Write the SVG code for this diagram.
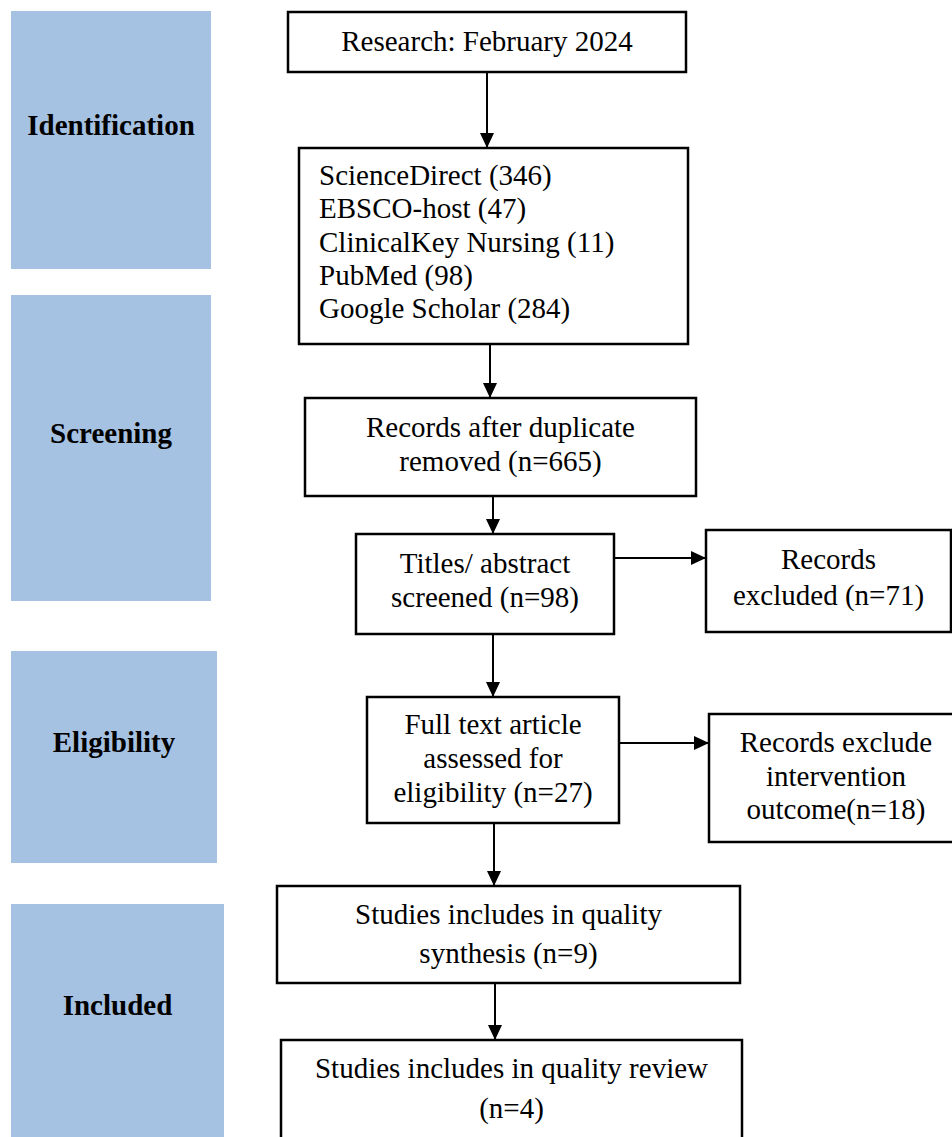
<svg xmlns="http://www.w3.org/2000/svg" width="952" height="1137" viewBox="0 0 952 1137">
<style>
.stage{fill:#a6c2e2}
.lab{font-family:"Liberation Serif","Times New Roman",serif;font-size:29px;font-weight:bold;fill:#000;text-anchor:middle}
.box{fill:#fff;stroke:#000;stroke-width:2.5}
.t{font-family:"Liberation Serif","Times New Roman",serif;font-size:29px;fill:#000;text-anchor:middle}
.tl{font-family:"Liberation Serif","Times New Roman",serif;font-size:29px;fill:#000}
.c{fill:none;stroke:#000;stroke-width:2}
</style>
<defs>
<marker id="ah" markerUnits="userSpaceOnUse" markerWidth="16" markerHeight="15" refX="15" refY="7" orient="auto">
<path d="M0,0 L15,7 L0,14 z" fill="#000"/>
</marker>
</defs>
<rect width="952" height="1137" fill="#fff"/>
<g id="stage-identification"><rect class="stage" x="11" y="11" width="200" height="258"/><text class="lab" x="111" y="135">Identification</text></g>
<g id="stage-screening"><rect class="stage" x="11" y="295" width="200" height="306"/><text class="lab" x="111" y="443">Screening</text></g>
<g id="stage-eligibility"><rect class="stage" x="11" y="651" width="206" height="212"/><text class="lab" x="114" y="752">Eligibility</text></g>
<g id="stage-included"><rect class="stage" x="11" y="904" width="213" height="240"/><text class="lab" x="117.5" y="1015">Included</text></g>

<g id="connectors">
<line class="c" x1="487" y1="72" x2="487" y2="148" marker-end="url(#ah)"/>
<line class="c" x1="490" y1="344" x2="490" y2="398" marker-end="url(#ah)"/>
<line class="c" x1="493" y1="496" x2="493" y2="534" marker-end="url(#ah)"/>
<line class="c" x1="614" y1="558" x2="706" y2="558" marker-end="url(#ah)"/>
<line class="c" x1="493" y1="634" x2="493" y2="697" marker-end="url(#ah)"/>
<line class="c" x1="619" y1="743" x2="709" y2="743" marker-end="url(#ah)"/>
<line class="c" x1="494" y1="823" x2="494" y2="886" marker-end="url(#ah)"/>
<line class="c" x1="495" y1="983" x2="495" y2="1040" marker-end="url(#ah)"/>
</g>

<g id="n-research"><rect class="box" x="288" y="12" width="398" height="60"/><text class="t" x="487" y="51">Research: February 2024</text></g>
<g id="n-sources"><rect class="box" x="299" y="148" width="389" height="196"/>
<text class="tl" x="319" y="185">ScienceDirect (346)</text>
<text class="tl" x="319" y="218">EBSCO-host (47)</text>
<text class="tl" x="319" y="252">ClinicalKey Nursing (11)</text>
<text class="tl" x="319" y="285">PubMed (98)</text>
<text class="tl" x="319" y="318">Google Scholar (284)</text></g>
<g id="n-records"><rect class="box" x="305" y="398" width="391" height="98"/><text class="t" x="500.5" y="437">Records after duplicate</text><text class="t" x="500.5" y="471">removed (n=665)</text></g>
<g id="n-titles"><rect class="box" x="356" y="534" width="258" height="100"/><text class="t" x="485" y="573">Titles/ abstract</text><text class="t" x="485" y="607">screened (n=98)</text></g>
<g id="n-excluded"><rect class="box" x="706" y="530" width="245" height="102"/><text class="t" x="828.5" y="569">Records</text><text class="t" x="828.5" y="605">excluded (n=71)</text></g>
<g id="n-fulltext"><rect class="box" x="367" y="697" width="252" height="126"/><text class="t" x="493" y="734">Full text article</text><text class="t" x="493" y="768">assessed for</text><text class="t" x="493" y="802">eligibility (n=27)</text></g>
<g id="n-exclude2"><rect class="box" x="709" y="714" width="254" height="128"/><text class="t" x="836" y="752">Records exclude</text><text class="t" x="836" y="786">intervention</text><text class="t" x="836" y="819">outcome(n=18)</text></g>
<g id="n-synthesis"><rect class="box" x="277" y="886" width="463" height="97"/><text class="t" x="508.5" y="924">Studies includes in quality</text><text class="t" x="508.5" y="963">synthesis (n=9)</text></g>
<g id="n-review"><rect class="box" x="281" y="1040" width="461" height="110"/><text class="t" x="511.5" y="1078">Studies includes in quality review</text><text class="t" x="511.5" y="1118">(n=4)</text></g>
</svg>
